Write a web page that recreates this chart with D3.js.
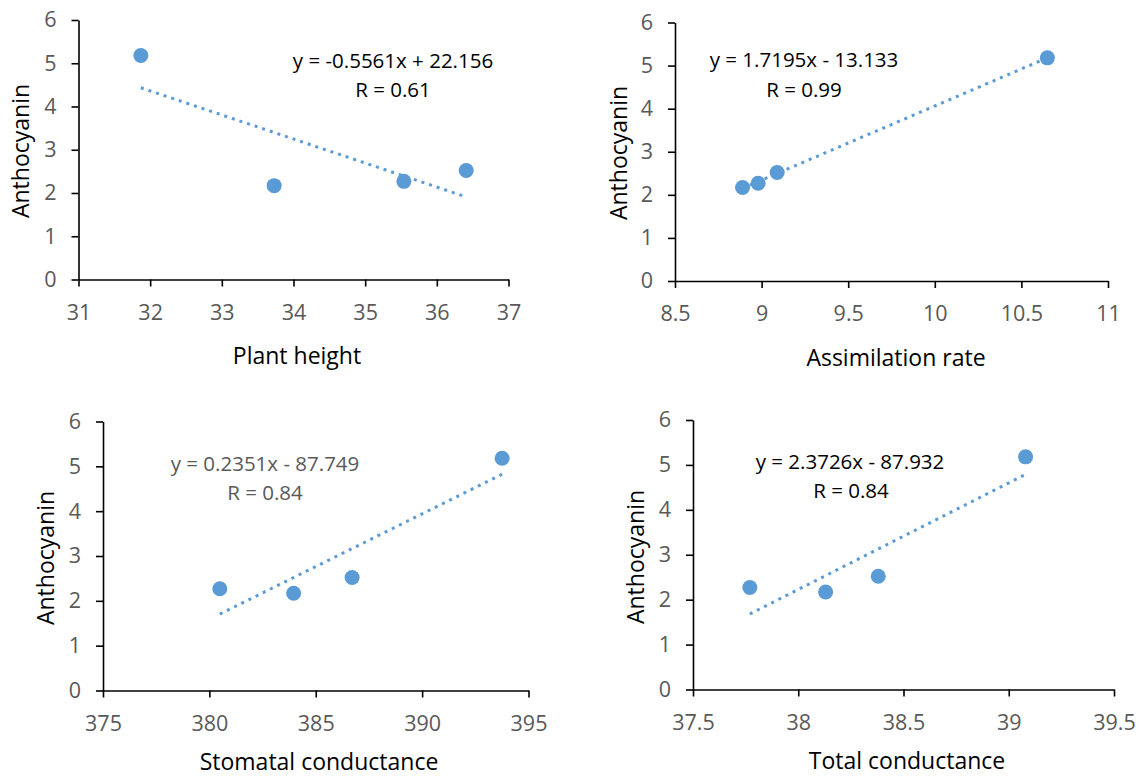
<!DOCTYPE html>
<html>
<head>
<meta charset="utf-8">
<script src="https://cdn.jsdelivr.net/npm/d3@7"></script>
<style>
  body { margin: 0; background: #fff; }
  svg { display: block; }
</style>
</head>
<body>
<script>
const W = 1139, H = 776;

// shared y values (Anthocyanin) for the four samples
const anthocyanin = [5.18, 2.17, 2.27, 2.52];
const plantHeight = [31.87, 33.73, 35.54, 36.41];
const assimilationRate = [10.65, 8.89, 8.98, 9.09];
const stomatalConductance = [393.76, 383.96, 380.49, 386.71];
const totalConductance = [39.08, 38.13, 37.77, 38.38];

const xTitles = ["Plant height", "Assimilation rate", "Stomatal conductance", "Total conductance"];
const xTicks = [
  [31, 32, 33, 34, 35, 36, 37],
  [8.5, 9, 9.5, 10, 10.5, 11],
  [375, 380, 385, 390, 395],
  [37.5, 38, 38.5, 39, 39.5]
];
const yTicks = [0, 1, 2, 3, 4, 5, 6];
const slopes = [-0.5561, 1.7195, 0.2351, 2.3726];
const intercepts = [22.156, -13.133, -87.749, -87.932];
const eqLabels = ["y = -0.5561x + 22.156", "y = 1.7195x - 13.133", "y = 0.2351x - 87.749", "y = 2.3726x - 87.932"];
const rLabels = ["R = 0.61", "R = 0.99", "R = 0.84", "R = 0.84"];
const xSeries = [plantHeight, assimilationRate, stomatalConductance, totalConductance];

// placement of each panel in the page (pixels)
const layout = [
  {x0: 78.5, x1: 508.5, y0: 279.5, y1: 20,  eq: [393, 68],  r: [393, 97],  eqColor: "#000", yt: [21, 151], xt: [297, 356]},
  {x0: 675,  x1: 1108,  y0: 281,   y1: 22.5, eq: [804, 67], r: [804, 97],  eqColor: "#000", yt: [619, 153], xt: [896, 358]},
  {x0: 103,  x1: 528.5, y0: 690.5, y1: 421.5, eq: [265, 471], r: [265, 500], eqColor: "#595959", yt: [46, 558], xt: [319, 762]},
  {x0: 693,  x1: 1114,  y0: 689.5, y1: 420,  eq: [850, 469], r: [851, 498], eqColor: "#000", yt: [636, 557], xt: [907, 761]}
];

const font = "'Open Sans', 'Noto Sans', sans-serif";
const blue = "#5B9BD5";

const svg = d3.select("body").append("svg")
  .attr("width", W)
  .attr("height", H);

layout.forEach((L, i) => {
  const xt = xTicks[i];
  const x = d3.scaleLinear().domain([xt[0], xt[xt.length - 1]]).range([L.x0, L.x1]);
  const y = d3.scaleLinear().domain([0, 6]).range([L.y0, L.y1]);
  const g = svg.append("g");

  const xAxis = g.append("g")
    .attr("transform", `translate(0,${L.y0})`)
    .call(d3.axisBottom(x).tickValues(xt).tickSize(7).tickSizeOuter(0).tickPadding(18).tickFormat(d => d));
  const yAxis = g.append("g")
    .attr("transform", `translate(${L.x0},0)`)
    .call(d3.axisLeft(y).tickValues(yTicks).tickSize(7).tickSizeOuter(0).tickPadding(15).tickFormat(d => d));

  [xAxis, yAxis].forEach(a => {
    a.attr("font-family", font).attr("font-size", 21.5);
    a.select(".domain").attr("stroke", "#000").attr("stroke-width", 1.6);
    a.selectAll(".tick line").attr("stroke", "#000").attr("stroke-width", 1.6);
    a.selectAll(".tick text").attr("fill", "#595959");
  });

  // trendline across the data range
  const xs = xSeries[i];
  const ext = d3.extent(xs);
  g.append("line")
    .attr("x1", x(ext[0])).attr("y1", y(slopes[i] * ext[0] + intercepts[i]))
    .attr("x2", x(ext[1])).attr("y2", y(slopes[i] * ext[1] + intercepts[i]))
    .attr("stroke", blue)
    .attr("stroke-width", 3)
    .attr("stroke-dasharray", "3,5");

  g.selectAll("circle")
    .data(xs.map((v, k) => [v, anthocyanin[k]]))
    .enter()
    .append("circle")
      .attr("cx", d => x(d[0]))
      .attr("cy", d => y(d[1]))
      .attr("r", 7.5)
      .attr("fill", blue);

  g.append("text")
    .attr("x", L.eq[0]).attr("y", L.eq[1])
    .attr("text-anchor", "middle")
    .attr("font-family", font).attr("font-size", 20.5)
    .attr("fill", L.eqColor)
    .text(eqLabels[i]);
  g.append("text")
    .attr("x", L.r[0]).attr("y", L.r[1])
    .attr("text-anchor", "middle")
    .attr("font-family", font).attr("font-size", 20.5)
    .attr("fill", L.eqColor)
    .text(rLabels[i]);

  g.append("text")
    .attr("x", L.xt[0]).attr("y", L.xt[1])
    .attr("dy", "0.35em")
    .attr("text-anchor", "middle")
    .attr("font-family", font).attr("font-size", 23)
    .attr("fill", "#000")
    .text(xTitles[i]);
  g.append("text")
    .attr("transform", `translate(${L.yt[0]},${L.yt[1]}) rotate(-90)`)
    .attr("dy", "0.35em")
    .attr("text-anchor", "middle")
    .attr("font-family", font).attr("font-size", 23)
    .attr("fill", "#000")
    .text("Anthocyanin");
});
</script>
</body>
</html>
